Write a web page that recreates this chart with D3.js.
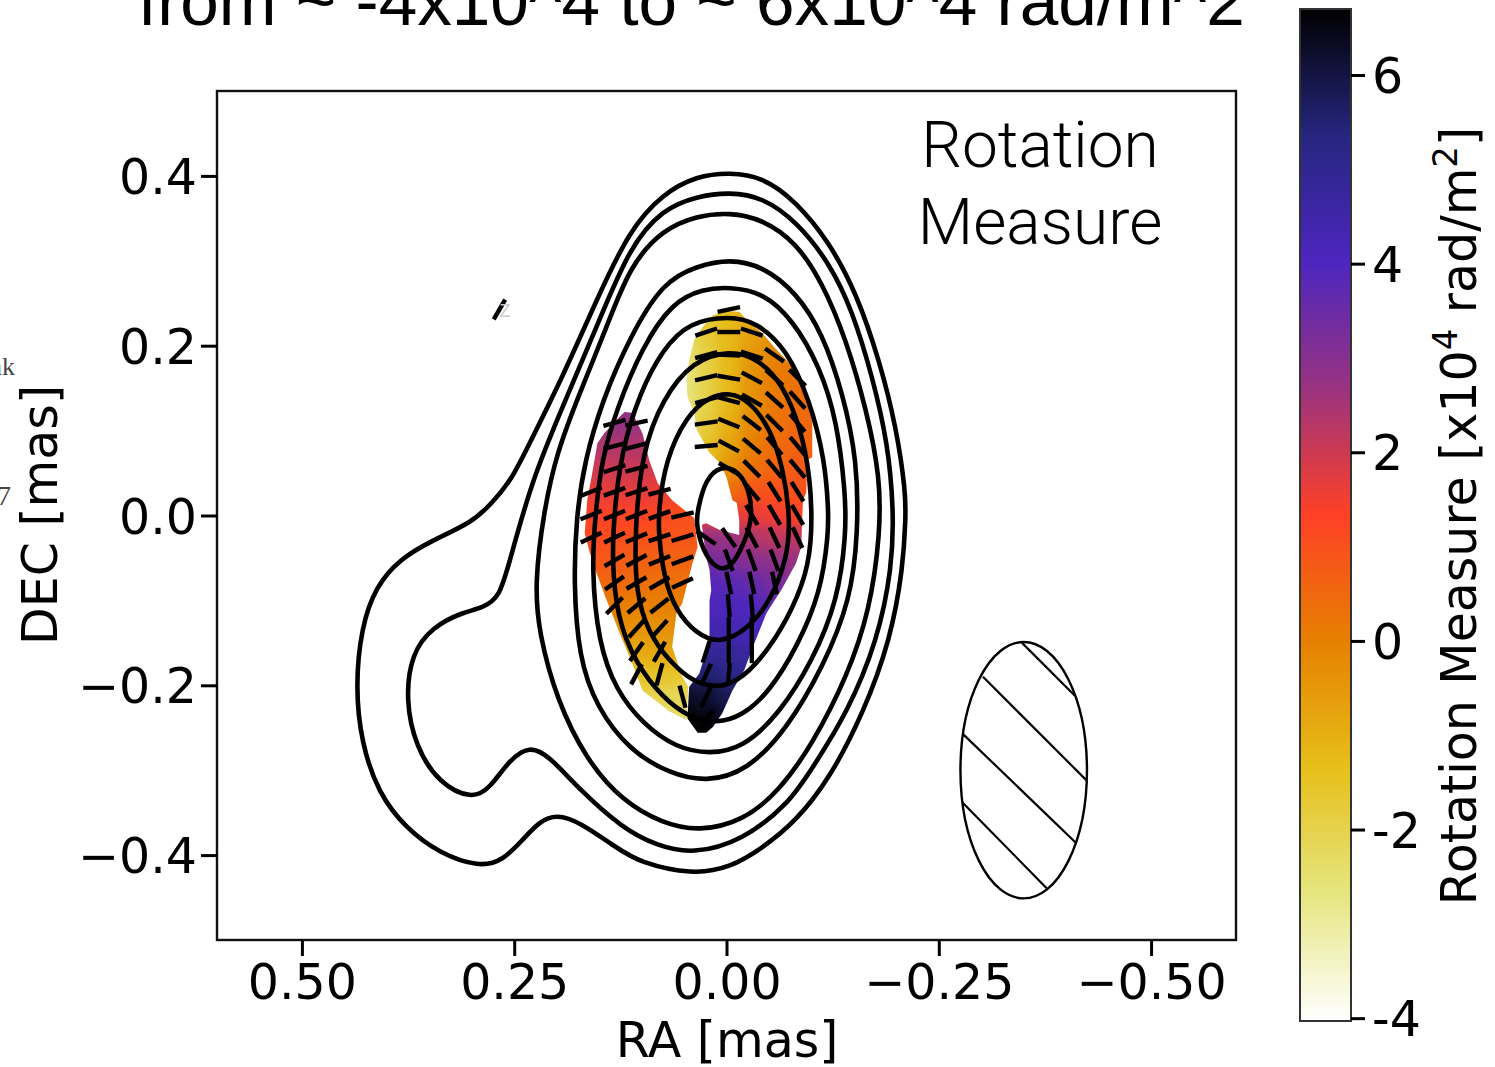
<!DOCTYPE html>
<html>
<head>
<meta charset="utf-8">
<script src="https://d3js.org/d3.v7.min.js"></script>
<style>
  body { margin:0; background:#fff; overflow:hidden; }
  text { fill:#000; }
</style>
</head>
<body>
<svg id="chart" width="1495" height="1067"></svg>
<script>
// contours of total intensity, [RA, DEC] in mas
var contour1 = [[-.004,.404],[-.042,.399],[-.082,.370],[-.121,.322],[-.153,.262],[-.180,.183],[-.200,.104],[-.211,.027],[-.211,-.002],[-.208,-.061],[-.193,-.147],[-.161,-.233],[-.122,-.309],[-.082,-.360],[-.042,-.392],[-.004,-.415],[.040,-.423],[.102,-.409],[.130,-.391],[.173,-.361],[.200,-.352],[.220,-.360],[.240,-.382],[.264,-.407],[.291,-.414],[.338,-.398],[.378,-.368],[.410,-.327],[.430,-.268],[.437,-.202],[.430,-.131],[.413,-.084],[.386,-.052],[.346,-.029],[.299,-.008],[.276,.015],[.253,.042],[.232,.085],[.193,.163],[.153,.254],[.114,.337],[.075,.379],[.035,.400]];
var contour2 = [[-.004,.381],[-.042,.375],[-.082,.347],[-.121,.298],[-.148,.242],[-.172,.163],[-.190,.085],[-.197,.006],[-.195,-.061],[-.178,-.147],[-.142,-.233],[-.102,-.296],[-.074,-.339],[-.019,-.383],[.040,-.399],[.082,-.389],[.123,-.368],[.173,-.323],[.209,-.283],[.232,-.271],[.256,-.288],[.279,-.322],[.300,-.334],[.338,-.316],[.366,-.273],[.378,-.217],[.371,-.162],[.346,-.131],[.311,-.114],[.287,-.109],[.267,-.096],[.256,-.056],[.229,.042],[.193,.128],[.153,.222],[.114,.317],[.075,.361],[.035,.376]];
var contour3 = [[-.004,.357],[-.042,.349],[-.082,.322],[-.113,.274],[-.141,.207],[-.165,.124],[-.181,.045],[-.181,-.021],[-.169,-.111],[-.142,-.190],[-.102,-.268],[-.062,-.325],[-.019,-.360],[.032,-.372],[.075,-.363],[.123,-.336],[.165,-.288],[.200,-.217],[.221,-.138],[.226,-.080],[.215,.006],[.200,.074],[.173,.144],[.141,.222],[.114,.294],[.075,.337],[.035,.353]];
var contour4 = [[-.004,.302],[-.042,.294],[-.082,.263],[-.113,.215],[-.137,.144],[-.154,.065],[-.155,-.021],[-.146,-.100],[-.114,-.178],[-.071,-.252],[-.024,-.301],[.024,-.314],[.067,-.304],[.114,-.277],[.153,-.226],[.174,-.167],[.180,-.080],[.177,-.002],[.167,.065],[.146,.136],[.114,.210],[.075,.275],[.035,.294]];
var contour5 = [[-.004,.269],[-.042,.263],[-.078,.231],[-.110,.175],[-.130,.112],[-.140,.027],[-.141,-.021],[-.131,-.100],[-.102,-.170],[-.062,-.234],[-.019,-.274],[.020,-.281],[.059,-.274],[.099,-.245],[.130,-.206],[.151,-.150],[.159,-.061],[.154,.006],[.147,.065],[.130,.124],[.099,.199],[.064,.251],[.028,.267]];
var contour6 = [[-.004,.235],[-.035,.228],[-.071,.196],[-.098,.136],[-.116,.065],[-.120,.006],[-.120,-.021],[-.111,-.091],[-.083,-.155],[-.051,-.207],[-.019,-.236],[.012,-.245],[.044,-.238],[.075,-.215],[.107,-.174],[.129,-.120],[.135,-.052],[.132,.006],[.124,.074],[.102,.145],[.075,.196],[.044,.228]];
var contour7 = [[-.004,.195],[-.039,.184],[-.067,.153],[-.087,.104],[-.099,.045],[-.101,-.021],[-.095,-.068],[-.072,-.123],[-.039,-.172],[-.012,-.196],[.012,-.203],[.040,-.196],[.068,-.171],[.092,-.138],[.107,-.091],[.108,-.021],[.100,.074],[.075,.138],[.040,.182]];
var contour8 = [[-.004,.145],[-.027,.135],[-.052,.102],[-.067,.054],[-.075,-.002],[-.072,-.049],[-.052,-.101],[-.024,-.135],[.008,-.151],[.035,-.140],[.060,-.112],[.074,-.072],[.080,-.021],[.080,.006],[.072,.065],[.047,.118],[.020,.140]];
var contour9 = [[.006,.059],[-.014,.053],[-.027,.030],[-.031,-.002],[-.021,-.033],[-.004,-.064],[.012,-.063],[.028,-.042],[.036,-.009],[.034,.006],[.025,.043]];
var contours = [contour1, contour2, contour3, contour4, contour5, contour6, contour7, contour8, contour9];

// outlines of the rotation measure image
var rmLeftOutline = [[.120,.122],[.111,.121],[.099,.097],[.091,.065],[.081,.038],[.064,.018],[.038,-.003],[.034,-.037],[.040,-.056],[.052,-.103],[.059,-.115],[.064,-.155],[.052,-.190],[.045,-.202],[.047,-.241],[.067,-.231],[.099,-.206],[.111,-.174],[.126,-.138],[.141,-.100],[.153,-.068],[.161,-.044],[.167,-.021],[.164,.018],[.159,.045],[.152,.085],[.144,.097],[.126,.116]];
var rmRightOutline = [[.016,.236],[0,.241],[-.015,.240],[-.024,.230],[-.042,.215],[-.059,.195],[-.082,.171],[-.095,.144],[-.101,.109],[-.101,.069],[-.095,.065],[-.094,.027],[-.090,.018],[-.088,-.037],[-.082,-.056],[-.065,-.087],[-.047,-.115],[-.031,-.155],[-.021,-.182],[-.007,-.206],[.005,-.233],[.016,-.249],[.024,-.256],[.034,-.256],[.046,-.239],[.044,-.202],[.032,-.186],[.020,-.147],[.020,-.100],[.018,-.088],[.020,-.064],[.024,-.049],[.029,-.011],[.024,-.009],[.008,-.017],[-.015,-.023],[-.015,-.005],[-.012,.015],[-.007,.018],[0,.045],[.008,.062],[.020,.074],[.035,.101],[.038,.121],[.046,.140],[.047,.160],[.044,.183],[.038,.207],[.028,.222]];

// rotation measure in units of 10^4 rad/m^2, read per cell
var rmCellStep = 0.0267;
var rmLeftRa = [.1860,.1594,.1319,.1060,.0789,.0518,.0239];
var rmLeftDec = [.1360,.1090,.0819,.0551,.0280,.0006,-.0261,-.0528,-.0795,-.1062,-.1333,-.1604,-.1870,-.2134,-.2409,-.2680];
var rmLeft = [
  [3,3,3,3,3,3,3],
  [2.9,2.9,2.8,2.7,2.6,2.6,2.6],
  [2.4,2.4,2.4,2.4,2.3,2.3,2.3],
  [2,2,2,2,1.9,1.8,1.8],
  [1.6,1.6,1.7,1.7,1.6,1.4,1.4],
  [1.3,1.3,1.3,1.3,1.2,1,.9],
  [1.1,1.1,1.1,1,.9,.9,1],
  [.9,.9,.8,.7,.6,.6,.6],
  [.5,.5,.5,.4,.3,.3,.3],
  [.1,.1,.1,0,0,0,0],
  [-.3,-.3,-.3,-.4,-.4,-.3,-.3],
  [-.9,-.9,-.9,-.9,-.8,-.8,-.8],
  [-1.5,-1.5,-1.5,-1.5,-1.5,-1.6,-1.6],
  [-2,-2,-2,-2,-2.1,-2.2,-2.2],
  [-2.4,-2.4,-2.4,-2.4,-2.4,-2.4,-2.4],
  [-2.6,-2.6,-2.6,-2.6,-2.6,-2.6,-2.6]
];
var rmRightRa = [.0789,.0518,.0239,-.0027,-.0298,-.0565,-.0836,-.1107];
var rmRightDec = [.2691,.2426,.2161,.1890,.1623,.1360,.1090,.0819,.0551,.0280,.0006,-.0261,-.0528,-.0795,-.1062,-.1333,-.1604,-.1870,-.2134,-.2409,-.2680,-.2950];
var rmRight = [
  [-2,-2,-1.6,-1.3,-.8,-.4,0,0],
  [-2,-2,-1.6,-1.3,-.8,-.4,0,0],
  [-2.4,-2.4,-1.7,-1.2,-.7,-.3,0,0],
  [-2.6,-2.6,-1.9,-1.2,-.5,-.1,.1,.2],
  [-2.7,-2.7,-2,-1.2,-.4,.1,.3,.4],
  [-2.7,-2.7,-2,-1.2,-.4,.1,.4,.4],
  [-2.5,-2.5,-1.8,-1,-.2,.3,.5,.5],
  [-2.2,-2.2,-1.5,-.8,0,.4,.6,.6],
  [-1.5,-1.5,-1.2,-.4,.3,.6,.8,.8],
  [0,0,0,.4,.9,1,1,1],
  [1.5,1.5,1.5,1.6,1.6,1.5,1.3,1.3],
  [2.8,2.8,2.8,2.7,2.4,2.2,2.2,2.2],
  [3.3,3.3,3.3,3.2,3,2.8,2.7,2.7],
  [3.8,3.8,3.9,3.8,3.6,3.3,3,3],
  [4,4,4,4.1,4,3.7,3.6,3.6],
  [4.5,4.5,4.4,4.3,4.2,4,4,4],
  [5,5,4.9,4.8,4.6,4.4,4.2,4.2],
  [5.6,5.6,5.5,5.2,5,5,5,5],
  [6.4,6.4,6.2,5.8,5.5,5.5,5.5,5.5],
  [6.7,6.7,6.6,6.3,6,6,6,6],
  [6.7,6.7,6.7,6.5,6.2,6.2,6.2,6.2],
  [6.7,6.7,6.7,6.5,6.2,6.2,6.2,6.2]
];

// polarization ticks: angle in degrees per grid position, null where there is none
var evpaRa = [.1594,.1319,.1060,.0789,.0518,.0239,-.0027,-.0298,-.0565,-.0836];
var evpaDec = [.2426,.2161,.1890,.1623,.1360,.1090,.0819,.0551,.0280,.0006,-.0261,-.0528,-.0795,-.1062,-.1333,-.1604,-.1870,-.2134,-.2409];
var evpaAngle = [
  [null,null,null,null,null,null,12,null,null,null],
  [null,null,null,null,null,18,0,-18,null,null],
  [null,null,null,null,null,15,-3,-18,-35,null],
  [null,null,null,null,null,13,-10,-28,-42,-45],
  [null,null,null,null,null,15,-15,-30,-42,-48],
  [null,15,12,null,null,8,-22,-38,-45,-50],
  [null,15,15,null,null,5,-28,-40,-50,-50],
  [null,18,15,null,null,null,-30,-45,-50,-50],
  [22,20,18,15,null,null,null,-50,-58,-58],
  [22,22,22,20,13,null,null,-60,-60,-60],
  [25,25,22,18,17,-35,-55,-62,-65,-65],
  [null,30,28,22,20,null,-70,-70,-70,null],
  [null,35,30,30,25,null,-78,-78,-78,null],
  [null,45,40,38,null,null,-85,-85,null,null],
  [null,null,48,48,null,null,90,90,null,null],
  [null,null,55,60,null,72,90,90,null,null],
  [null,null,62,75,null,65,85,null,null,null],
  [null,null,null,null,-75,65,null,null,null,null],
  [null,null,null,null,null,55,null,null,null,null]
];
var evpaStray = { ra: .2674, dec: .2426, angle: 60 };
var evpaHalf = 0.0135;

// restoring beam and its hatching
var beamRa = -0.35, beamDec = -0.30, beamA = 0.0745, beamB = 0.151;
var hatchLines = [[-.348,-.150,-.410,-.212],[-.302,-.190,-.424,-.312],[-.277,-.256,-.412,-.386],[-.275,-.335,-.377,-.439]];

// colour bar, CMRmap reversed
var cbarValues = [-4.03,-2.69,-1.35,0,1.34,2.68,4.02,5.36,6.70];
var cbarColors = ["#ffffff","#e6e680","#e6bf1a","#e68000","#ff4026","#993380","#4d26bf","#262680","#000000"];
var cbarTicks = [-4,-2,0,2,4,6];
var raTicks = [0.5,0.25,0,-0.25,-0.5];
var decTicks = [-0.4,-0.2,0,0.2,0.4];

var titleText = "from ~ -4x10^4 to ~ 6x10^4 rad/m^2";
var panelLines = ["Rotation", "Measure"];

var svg = d3.select("#chart");
var defs = svg.append("defs");

var x = d3.scaleLinear().domain([0.6,-0.6]).range([217,1236]);
var y = d3.scaleLinear().domain([-0.5,0.5]).range([940,91]);
var cbarY = d3.scaleLinear().domain([-4.03,6.70]).range([1021,9]);
var rmColor = d3.scaleLinear().domain(cbarValues).range(cbarColors).clamp(true);

var tickFont = "'DejaVu Sans', sans-serif";
var line = d3.line().x(function(d){return x(d[0])}).y(function(d){return y(d[1])});

// rotation measure image
defs.append("filter").attr("id","rmBlur")
  .attr("filterUnits","userSpaceOnUse").attr("x",0).attr("y",0).attr("width",1495).attr("height",1067)
  .attr("color-interpolation-filters","sRGB")
  .append("feGaussianBlur").attr("stdDeviation",7);

function drawRm(id, outline, raList, decList, values) {
  defs.append("clipPath").attr("id",id).append("path").attr("d", line(outline)+"Z");
  var cells = [];
  decList.forEach(function(dec,i){
    raList.forEach(function(ra,j){ cells.push({ra:ra,dec:dec,v:values[i][j]}); });
  });
  svg.append("g").attr("clip-path","url(#"+id+")")
    .append("g").attr("filter","url(#rmBlur)")
    .selectAll("rect").data(cells).enter().append("rect")
    .attr("x",function(d){return x(d.ra+rmCellStep/2)})
    .attr("y",function(d){return y(d.dec+rmCellStep/2)})
    .attr("width",x(-rmCellStep)-x(0)+1)
    .attr("height",y(-rmCellStep)-y(0)+1)
    .attr("fill",function(d){return rmColor(d.v)});
}
drawRm("rmLeftClip", rmLeftOutline, rmLeftRa, rmLeftDec, rmLeft);
drawRm("rmRightClip", rmRightOutline, rmRightRa, rmRightDec, rmRight);

// contours
var contourLine = d3.line().x(function(d){return x(d[0])}).y(function(d){return y(d[1])}).curve(d3.curveBasisClosed);
svg.append("g").selectAll("path").data(contours).enter().append("path")
  .attr("d",contourLine).attr("fill","none").attr("stroke","#000").attr("stroke-width",4.6);

// polarization ticks
var dashes = [];
evpaDec.forEach(function(dec,i){
  evpaRa.forEach(function(ra,j){
    if (evpaAngle[i][j] !== null) dashes.push({ra:ra,dec:dec,angle:evpaAngle[i][j]});
  });
});
dashes.push(evpaStray);
function dashEnd(d,sign) {
  var a = d.angle*Math.PI/180;
  return [d.ra-sign*Math.cos(a)*evpaHalf, d.dec+sign*Math.sin(a)*evpaHalf];
}
svg.append("g").selectAll("line").data(dashes).enter().append("line")
  .attr("x1",function(d){return x(dashEnd(d,-1)[0])})
  .attr("y1",function(d){return y(dashEnd(d,-1)[1])})
  .attr("x2",function(d){return x(dashEnd(d,1)[0])})
  .attr("y2",function(d){return y(dashEnd(d,1)[1])})
  .attr("stroke","#000").attr("stroke-width",4.4);

// beam
var beamRx = Math.abs(x(beamRa+beamA)-x(beamRa)), beamRy = Math.abs(y(beamDec-beamB)-y(beamDec));
defs.append("clipPath").attr("id","beamClip").append("ellipse")
  .attr("cx",x(beamRa)).attr("cy",y(beamDec)).attr("rx",beamRx).attr("ry",beamRy);
var beam = svg.append("g");
beam.append("g").attr("clip-path","url(#beamClip)").selectAll("line").data(hatchLines).enter().append("line")
  .attr("x1",function(d){return x(d[0])}).attr("y1",function(d){return y(d[1])})
  .attr("x2",function(d){return x(d[2])}).attr("y2",function(d){return y(d[3])})
  .attr("stroke","#000").attr("stroke-width",2.2);
beam.append("ellipse").attr("cx",x(beamRa)).attr("cy",y(beamDec)).attr("rx",beamRx).attr("ry",beamRy)
  .attr("fill","none").attr("stroke","#000").attr("stroke-width",2.4);

// frame and axes
svg.append("rect").attr("x",217).attr("y",91).attr("width",1019).attr("height",849)
  .attr("fill","none").attr("stroke","#111").attr("stroke-width",2.4);

function styleAxis(g) {
  g.select(".domain").remove();
  g.selectAll(".tick line").attr("stroke","#000").attr("stroke-width",3);
  g.selectAll(".tick text").style("font-family",tickFont).style("font-size","49px").attr("fill","#000");
}
var xAxis = svg.append("g").attr("transform","translate(0,940)")
  .call(d3.axisBottom(x).tickValues(raTicks).tickFormat(d3.format(".2f")).tickSize(16).tickPadding(8));
styleAxis(xAxis);
var yAxis = svg.append("g").attr("transform","translate(217,0)")
  .call(d3.axisLeft(y).tickValues(decTicks).tickFormat(d3.format(".1f")).tickSize(16).tickPadding(4));
styleAxis(yAxis);
yAxis.selectAll(".tick text").attr("dy","0.36em");

svg.append("text").attr("x",727).attr("y",1057).attr("text-anchor","middle")
  .style("font-family",tickFont).style("font-size","49px").text("RA [mas]");
svg.append("text").attr("transform","translate(57,515) rotate(-90)").attr("text-anchor","middle")
  .style("font-family",tickFont).style("font-size","49px").text("DEC [mas]");

// title, cut by the top of the picture
svg.append("text").attr("x",138).attr("y",25)
  .style("font-family","'Liberation Sans', Arial, sans-serif").style("font-size","69.3px").text(titleText);

// panel label
svg.selectAll(".panel").data(panelLines).enter().append("text").attr("class","panel")
  .attr("x",1040).attr("y",function(d,i){return 167+i*77}).attr("text-anchor","middle")
  .style("font-family","Roboto, sans-serif").style("font-weight",300).style("font-size","64px")
  .text(function(d){return d});

// colour bar
var grad = defs.append("linearGradient").attr("id","cbarGrad").attr("x1",0).attr("x2",0).attr("y1",1).attr("y2",0);
cbarValues.forEach(function(v,i){
  grad.append("stop").attr("offset",(v-cbarValues[0])/(cbarValues[8]-cbarValues[0])).attr("stop-color",cbarColors[i]);
});
svg.append("rect").attr("x",1300).attr("y",9).attr("width",51).attr("height",1012)
  .attr("fill","url(#cbarGrad)").attr("stroke","#333").attr("stroke-width",2);
var cbarAxis = svg.append("g").attr("transform","translate(1351,0)")
  .call(d3.axisRight(cbarY).tickValues(cbarTicks).tickFormat(function(d){return String(d)}).tickSize(14).tickPadding(7));
styleAxis(cbarAxis);
cbarAxis.selectAll(".tick text").attr("dy","0.36em");

var cbarLabel = svg.append("text").attr("transform","translate(1476,516) rotate(-90)").attr("text-anchor","middle")
  .style("font-family",tickFont).style("font-size","49px");
cbarLabel.append("tspan").text("Rotation Measure [x10");
cbarLabel.append("tspan").attr("dy",-19).style("font-size","34px").text("4");
cbarLabel.append("tspan").attr("dy",19).text(" rad/m");
cbarLabel.append("tspan").attr("dy",-19).style("font-size","34px").text("2");
cbarLabel.append("tspan").attr("dy",19).text("]");

// clipped scraps of other text at the left edge
svg.append("text").attr("x",15).attr("y",375).attr("text-anchor","end")
  .style("font-family","'Liberation Serif', serif").style("font-size","26px").style("fill","#444").text("nk");
svg.append("text").attr("x",11).attr("y",505).attr("text-anchor","end")
  .style("font-family","'Liberation Serif', serif").style("font-size","28px").style("fill","#444").text("7");
svg.append("text").attr("x",505).attr("y",317).attr("text-anchor","middle")
  .style("font-family","'Liberation Sans', sans-serif").style("font-size","18px").style("fill","#ccc").text("Z");
</script>
</body>
</html>
